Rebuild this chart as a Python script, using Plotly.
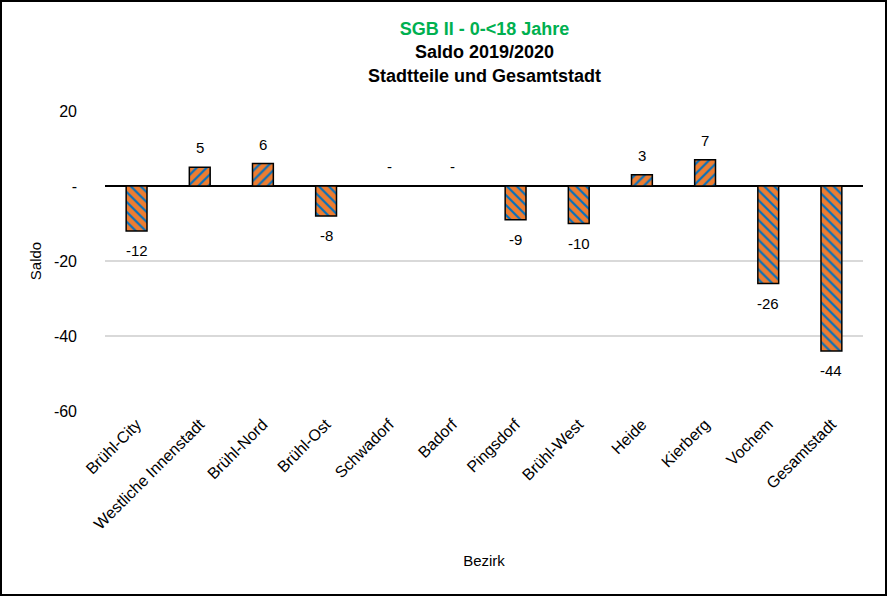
import plotly.graph_objects as go

categories = ["Brühl-City", "Westliche Innenstadt", "Brühl-Nord", "Brühl-Ost", "Schwadorf",
              "Badorf", "Pingsdorf", "Brühl-West", "Heide", "Kierberg", "Vochem", "Gesamtstadt"]
values = [-12, 5, 6, -8, 0, 0, -9, -10, 3, 7, -26, -44]
y_tickvals = [20, 0, -20, -40, -60]
y_ticktext = ["20", "-", "-20", "-40", "-60"]

W, H = 888, 597
L, R, T, B = 105, 25, 111, 186
PW, PH = W - L - R, H - T - B
FONT = "Liberation Sans, Arial"

shapes_pat = ["/" if v >= 0 else "\\" for v in values]

fig = go.Figure()
fig.add_trace(go.Bar(
    x=categories, y=values, width=0.33,
    marker=dict(color="#ED7D31",
                line=dict(color="black", width=1.5),
                pattern=dict(shape=shapes_pat, fgcolor="#0070C0", bgcolor="#ED7D31",
                             size=7, solidity=0.3, fillmode="replace")),
    hoverinfo="x+y", showlegend=False,
))

annotations = []
for c, v in zip(categories, values):
    txt = "-" if v == 0 else str(v)
    annotations.append(dict(
        x=c, y=v, xref="x", yref="y", text=txt, showarrow=False,
        yanchor="bottom" if v >= 0 else "top", yshift=9 if v >= 0 else -9,
        font=dict(size=15, color="black", family=FONT),
    ))

annotations.append(dict(
    x=0.5, y=(T + PH - 17) / PH, xref="paper", yref="paper", xanchor="center", yanchor="top",
    text="<span style='color:#00B050'><b>SGB II - 0-&lt;18 Jahre</b></span><br><b>Saldo 2019/2020</b><br><b>Stadtteile und Gesamtstadt</b>",
    showarrow=False, font=dict(size=18, color="black", family=FONT),
))

fig.update_layout(
    width=W, height=H,
    margin=dict(l=L, r=R, t=T, b=B),
    paper_bgcolor="white", plot_bgcolor="white",
    font=dict(family=FONT, size=16, color="black"),
    annotations=annotations,
    shapes=[dict(type="rect", xref="paper", yref="paper",
                 x0=(1 - L) / PW, x1=(W - 2 - L) / PW,
                 y0=-(H - 2 - T - PH) / PH, y1=(T + PH - 1) / PH,
                 line=dict(color="black", width=2), fillcolor="rgba(0,0,0,0)", layer="above")],
    xaxis=dict(tickangle=-45, showgrid=False, showline=False, ticks="",
               title=dict(text="Bezirk", font=dict(size=15), standoff=23),
               tickfont=dict(size=16)),
    yaxis=dict(range=[-60, 20], tickvals=y_tickvals, ticktext=y_ticktext,
               showgrid=True, gridcolor="#D9D9D9", gridwidth=2,
               zeroline=True, zerolinecolor="black", zerolinewidth=2,
               showline=False, ticks="", ticklabelstandoff=27,
               title=dict(text="Saldo", font=dict(size=15), standoff=8),
               tickfont=dict(size=16)),
)

fig.write_html("out.html", config={"displayModeBar": False},
               post_script="document.body.style.margin='0';")
